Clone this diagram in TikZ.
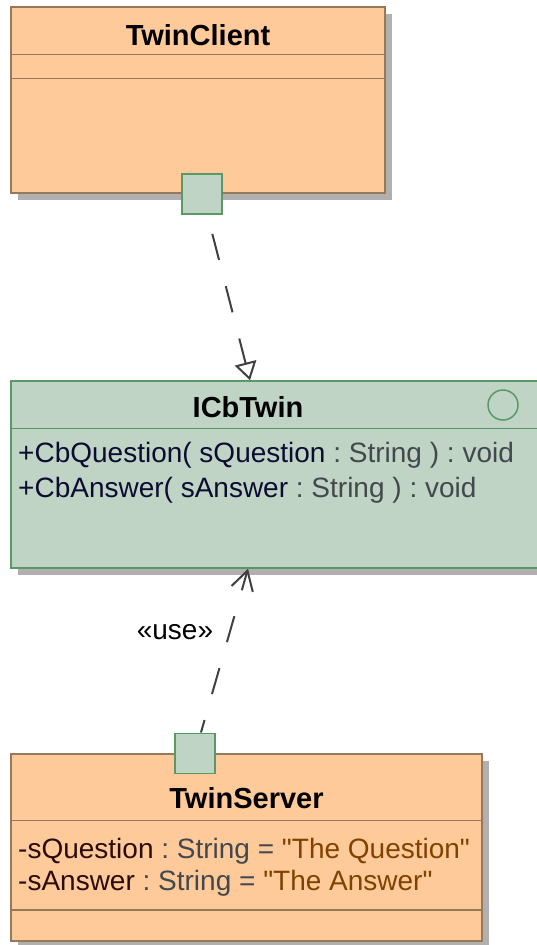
\documentclass[tikz,border=0pt]{standalone}
\usepackage{fontspec}
\setmainfont{Liberation Sans}
\usetikzlibrary{arrows.meta,positioning,shadows}
\definecolor{clsfill}{RGB}{255,202,153}
\definecolor{clsborder}{RGB}{150,120,90}
\definecolor{ifcfill}{RGB}{191,212,196}
\definecolor{ifcborder}{RGB}{90,152,102}
\definecolor{shadowgray}{RGB}{176,176,176}
\definecolor{linkgray}{RGB}{64,64,64}
\definecolor{opnavy}{RGB}{12,12,48}
\definecolor{attrdark}{RGB}{42,12,12}
\definecolor{typegray}{RGB}{66,72,78}
\definecolor{valbrown}{RGB}{128,66,0}
\frenchspacing

\begin{document}
\begin{tikzpicture}[x=1pt,y=-1pt,
	umlshadow/.style={general shadow={fill=shadowgray, shadow xshift=7pt, shadow yshift=-7pt}},
	classbox/.style={draw=clsborder, fill=clsfill, line width=1.5pt, inner sep=0pt, umlshadow},
	ifcbox/.style={draw=ifcborder, fill=ifcfill, line width=1.5pt, inner sep=0pt, umlshadow},
	portbox/.style={draw=ifcborder, fill=ifcfill, line width=1.5pt, inner sep=0pt, minimum size=40pt},
	clsline/.style={draw=clsborder, line width=1.5pt},
	ifcline/.style={draw=ifcborder, line width=1.5pt},
	titletext/.style={anchor=base, font=\fontsize{29pt}{34pt}\selectfont\bfseries, inner sep=0pt},
	membertext/.style={anchor=base west, font=\fontsize{28pt}{33pt}\selectfont, inner sep=0pt},
	link/.style={draw=linkgray, line width=2pt, dash pattern=on 27pt off 27pt}
	]
	\useasboundingbox (0,0) rectangle (536,945);
	
	% TwinClient
	\node[classbox, minimum width=374pt, minimum height=186pt] (client) at (198,100) {};
	\draw[clsline] ([yshift=-48pt]client.north west) -- ([yshift=-48pt]client.north east);
	\draw[clsline] ([yshift=-72pt]client.north west) -- ([yshift=-72pt]client.north east);
	\node[titletext] (clientname) at (198,45) {TwinClient};
	\node[portbox] (clientport) at ([xshift=4pt]client.south) {};
	
	% ICbTwin
	\node[ifcbox, minimum width=537pt, minimum height=187pt] (twin) at (279.5,474.5) {};
	\draw[ifcline] ([yshift=-48pt]twin.north west) -- ([yshift=-48pt]twin.north east);
	\node[titletext] (twinname) at (248,417) {ICbTwin};
	\node[draw=ifcborder, line width=1.5pt, circle, minimum size=30pt, inner sep=0pt] (twinicon) at (503,405) {};
	\node[membertext, text=opnavy] (twinop1) at (18,462) {+CbQuestion( sQuestion {\color{typegray}: String ) : void}};
	\node[membertext, text=opnavy] (twinop2) at (18,497) {+CbAnswer( sAnswer {\color{typegray}: String ) : void}};
	
	% TwinServer
	\node[classbox, minimum width=471pt, minimum height=187pt] (server) at (246.5,847.5) {};
	\draw[clsline] ([yshift=-67pt]server.north west) -- ([yshift=-67pt]server.north east);
	\draw[clsline] ([yshift=32pt]server.south west) -- ([yshift=32pt]server.south east);
	\node[titletext] (servername) at (246.5,808) {TwinServer};
	\node[membertext, text=attrdark] (serverattr1) at (18,858) {-sQuestion {\color{typegray}: String =} {\color{valbrown}\textquotedbl The Question\textquotedbl}};
	\node[membertext, text=attrdark] (serverattr2) at (18,890) {-sAnswer {\color{typegray}: String =} {\color{valbrown}\textquotedbl The Answer\textquotedbl}};
	\node[portbox] (serverport) at ([xshift=-51.5pt]server.north) {};
	
	% connectors
	\draw[link, dash phase=34pt, -{Triangle[open, length=18pt, width=22pt]}] (clientport) -- ([xshift=-29.5pt]twin.north);
	\draw[link, dash phase=14pt, -{Straight Barb[length=19pt, width=22pt]}] (serverport) -- ([xshift=-31.5pt]twin.south);
	\node[font=\fontsize{28pt}{33pt}\selectfont, inner sep=0pt] (uselabel) at (175,632) {«use»};
\end{tikzpicture}
\end{document}
